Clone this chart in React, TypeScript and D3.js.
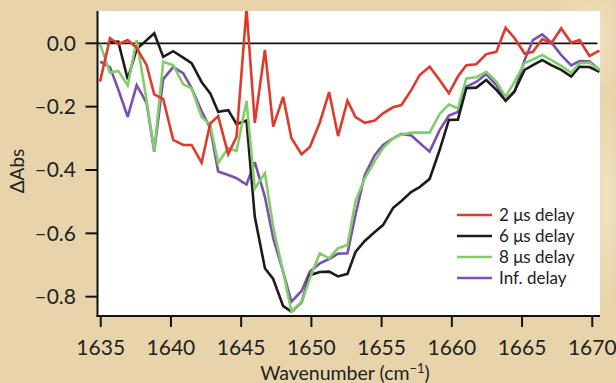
import React from "react";
import * as d3 from "d3";

const wavenumbers = [
  1634.95, 1635.66, 1636.25, 1636.92, 1637.56, 1638.27, 1638.81, 1639.45, 1640.16, 1640.87,
  1641.47, 1642.18, 1642.8, 1643.36, 1644.08, 1644.67, 1645.38, 1645.97, 1646.69, 1647.28,
  1647.99, 1648.58, 1649.3, 1649.89, 1650.6, 1651.26, 1651.9, 1652.57, 1653.14, 1653.8,
  1654.51, 1655.1, 1655.81, 1656.41, 1657.12, 1657.71, 1658.42, 1659.13, 1659.79, 1660.43,
  1661.03, 1661.74, 1662.45, 1663.17, 1663.83, 1664.47, 1665.18, 1665.77, 1666.44, 1667.08,
  1667.79, 1668.5, 1669.09, 1669.8, 1670.51,
];

const delay2us = [
  -0.121, 0.016, -0.003, 0.01, -0.014, -0.069, -0.161, -0.176, -0.305, -0.321,
  -0.321, -0.377, -0.253, -0.23, -0.35, -0.295, 0.11, -0.251, -0.021, -0.263,
  -0.169, -0.3, -0.35, -0.327, -0.25, -0.154, -0.293, -0.181, -0.233, -0.251,
  -0.244, -0.221, -0.202, -0.195, -0.147, -0.1, -0.074, -0.116, -0.158, -0.105,
  -0.069, -0.066, -0.034, -0.027, 0.049, 0.016, -0.032, -0.027, 0.013, 0.0,
  0.047, 0.002, 0.01, -0.04, -0.023,
];

const delay6us: (number | null)[] = [
  null, 0.003, 0.005, -0.113, -0.018, 0.01, 0.032, -0.043, -0.025, -0.045,
  -0.063, -0.122, -0.158, -0.216, -0.211, -0.255, -0.244, -0.548, -0.71, -0.744,
  -0.83, -0.847, -0.818, -0.732, -0.722, -0.721, -0.736, -0.728, -0.659, -0.624,
  -0.596, -0.574, -0.52, -0.498, -0.469, -0.454, -0.428, -0.337, -0.242, -0.241,
  -0.142, -0.14, -0.116, -0.147, -0.181, -0.151, -0.084, -0.069, -0.053, -0.069,
  -0.084, -0.105, -0.074, -0.075, -0.09,
];

const delay8us = [
  -0.002, -0.093, -0.087, -0.133, 0.01, -0.181, -0.34, -0.058, -0.069, -0.129,
  -0.142, -0.232, -0.258, -0.378, -0.331, -0.34, -0.182, -0.458, -0.41, -0.58,
  -0.722, -0.847, -0.817, -0.742, -0.663, -0.679, -0.647, -0.637, -0.498, -0.426,
  -0.372, -0.331, -0.3, -0.288, -0.282, -0.282, -0.282, -0.223, -0.193, -0.205,
  -0.111, -0.107, -0.09, -0.121, -0.169, -0.121, -0.062, -0.051, -0.037, -0.053,
  -0.071, -0.093, -0.063, -0.061, -0.084,
];

const delayInf = [
  -0.058, -0.075, -0.146, -0.232, -0.132, -0.189, -0.342, -0.113, -0.075, -0.094,
  -0.141, -0.214, -0.268, -0.405, -0.416, -0.426, -0.446, -0.375, -0.485, -0.615,
  -0.722, -0.816, -0.782, -0.721, -0.695, -0.681, -0.664, -0.663, -0.542, -0.416,
  -0.353, -0.321, -0.3, -0.286, -0.291, -0.315, -0.342, -0.274, -0.228, -0.217,
  -0.137, -0.122, -0.097, -0.132, -0.182, -0.153, -0.053, 0.01, 0.028, 0.003,
  -0.037, -0.07, -0.056, -0.057, -0.084,
];

const xTicks = [1635, 1640, 1645, 1650, 1655, 1660, 1665, 1670];
const yTicks = [0, -0.2, -0.4, -0.6, -0.8];

const seriesNames = ["2 μs delay", "6 μs delay", "8 μs delay", "Inf. delay"];
const seriesColors = ["#e03a2c", "#1c1c1c", "#82cc6c", "#7a52ad"];
const seriesData = [delay2us, delay6us, delay8us, delayInf];
const drawOrder = [3, 1, 2, 0];

const W = 616;
const H = 383;
const left = 97.5;
const right = 600;
const top = 11;
const bottom = 316;
const FONT = "Lato, 'Open Sans', sans-serif";

export default function App() {
  const x = d3.scaleLinear().domain([1634.77, 1670.55]).range([left, right]);
  const y = d3.scaleLinear().domain([0.102, -0.861]).range([top, bottom]);

  const line = d3
    .line<number | null>()
    .defined((d) => d !== null && d !== undefined)
    .x((_, i) => x(wavenumbers[i]))
    .y((d) => y(d as number));

  const fmt = (v: number) => (v < 0 ? "\u2013" + Math.abs(v).toFixed(1) : v.toFixed(1));

  return (
    <svg
      width={W}
      height={H}
      style={{ position: "fixed", left: 0, top: 0, display: "block" }}
      fontFamily={FONT}
    >
      <defs>
        <clipPath id="plotClip">
          <rect x={left} y={top} width={right - left} height={bottom - top} />
        </clipPath>
        <radialGradient id="glow1" cx="0.5" cy="0.5" r="0.5">
          <stop offset="0" stopColor="#f3e6c8" stopOpacity="0.8" />
          <stop offset="1" stopColor="#f3e6c8" stopOpacity="0" />
        </radialGradient>
      </defs>
      <rect x={0} y={0} width={W} height={H} fill="#e8d4ab" />
      <ellipse cx={590} cy={40} rx={40} ry={60} fill="url(#glow1)" />
      <ellipse cx={605} cy={200} rx={20} ry={110} fill="url(#glow1)" />
      <rect x={left} y={top} width={right - left} height={bottom - top} fill="#ffffff" />

      {/* zero line */}
      <line x1={left} x2={597.5} y1={y(0)} y2={y(0)} stroke="#111" strokeWidth={1.8} />

      <g clipPath="url(#plotClip)">
        {drawOrder.map((k) => (
          <path
            key={k}
            d={line(seriesData[k] as (number | null)[]) || ""}
            fill="none"
            stroke={seriesColors[k]}
            strokeWidth={2.6}
            strokeLinejoin="miter"
            strokeMiterlimit={3}
          />
        ))}
      </g>

      {/* axes */}
      <line x1={left} x2={left} y1={top} y2={bottom + 1} stroke="#111" strokeWidth={2} />
      <line x1={left - 1} x2={right} y1={bottom} y2={bottom} stroke="#111" strokeWidth={2} />

      {xTicks.map((t) => (
        <g key={t}>
          <line x1={x(t)} x2={x(t)} y1={bottom} y2={bottom + 11} stroke="#111" strokeWidth={2} />
          <text x={x(t)} y={355} textAnchor="middle" fontSize={21} fill="#222">
            {t}
          </text>
        </g>
      ))}
      {yTicks.map((t) => (
        <g key={t}>
          <line x1={left - 12} x2={left} y1={y(t)} y2={y(t)} stroke="#111" strokeWidth={2} />
          <text x={76} y={y(t) + 7.5} textAnchor="end" fontSize={21} fill="#222">
            {fmt(t)}
          </text>
        </g>
      ))}

      <text
        transform="translate(24,171) rotate(-90)"
        textAnchor="middle"
        fontSize={19}
        fill="#222"
      >
        ΔAbs
      </text>
      <text x={345} y={380} textAnchor="middle" fontSize={19.5} fill="#222">
        Wavenumber (cm
        <tspan dy={-7} fontSize={13}>
          −1
        </tspan>
        <tspan dy={7}>)</tspan>
      </text>

      {seriesNames.map((name, i) => (
        <g key={name} transform={`translate(0,${215 + i * 21})`}>
          <line x1={457} x2={492} y1={0} y2={0} stroke={seriesColors[i]} strokeWidth={2.6} />
          <text x={499} y={6} fontSize={17} fill="#222">
            {name}
          </text>
        </g>
      ))}
    </svg>
  );
}
